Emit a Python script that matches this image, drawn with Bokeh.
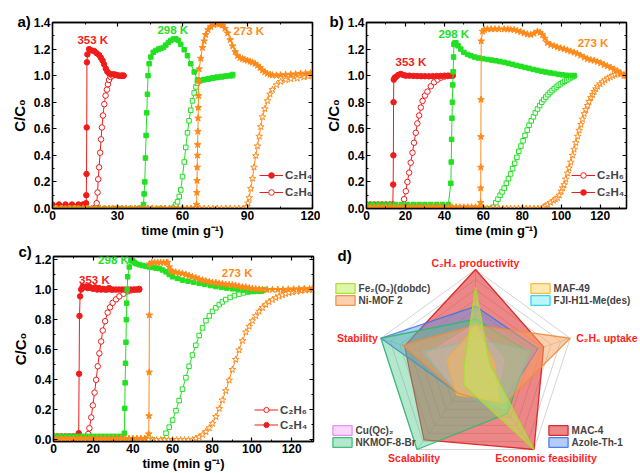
import numpy as np
from bokeh.plotting import figure
from bokeh.models import (Range1d, SingleIntervalTicker, LinearAxis, PrintfTickFormatter,
                          Label, Legend, LegendItem)
from bokeh.layouts import column, row
from bokeh.embed import file_html
from bokeh.resources import INLINE

# ---------------- data (time min/g, C/C0) ----------------
# panel a
a_353_C2H4 = [(0,0.03),(3,0.03),(6,0.03),(9,0.03),(12,0.03),(14,0.03),(15.5,0.04),(15.6,0.10),(15.7,0.26),
              (15.8,0.61),(15.9,1.10),(16.1,1.16),(16.9,1.20),(18.0,1.19),(19.2,1.186),(20.3,1.17),(21.5,1.155),
              (22.3,1.135),(23.1,1.114),(23.8,1.085),(24.6,1.053),(25.3,1.03),(26.1,1.017),(27.2,1.01),(28.4,1.01),
              (29.5,1.005),(30.7,1.0),(31.8,1.0),(32.8,1.0)]
a_353_C2H6 = [(0,0.0),(4,0.0),(8,0.0),(12,0.0),(16,0.0),(19,0.0),(20.0,0.01),(20.4,0.04),(20.8,0.12),(21.1,0.22),
              (21.5,0.31),(22.0,0.42),(22.4,0.52),(22.8,0.61),(23.3,0.70),(23.9,0.785),(24.5,0.85),(25.1,0.895),
              (25.6,0.935),(26.1,0.968),(26.8,0.99),(27.7,1.0),(29.0,1.005),(30.5,1.0),(32.0,1.0),(32.8,1.0)]
a_298_C2H4 = [(0,0.0),(4,0.0),(8,0.0),(12,0.0),(16,0.0),(20,0.0),(24,0.0),(28,0.0),(32,0.0),(36,0.0),(40,0.0),
              (42.0,0.03),(42.3,0.11),(42.6,0.20),(42.9,0.38),(43.2,0.55),(43.5,0.72),(43.8,0.86),(44.1,1.0),
              (44.6,1.09),(45.4,1.14),(46.5,1.176),(47.7,1.19),(49.0,1.2),(50.0,1.205),(51.2,1.212),(52.3,1.23),
              (53.5,1.25),(54.6,1.265),(55.8,1.276),(56.9,1.278),(58.0,1.265),(59.2,1.235),(60.8,1.195),(62.3,1.15),
              (63.8,1.09),(65.4,1.028),(66.9,0.968),(68,0.965),(70,0.97),(72,0.975),(74,0.98),(76,0.985),(78,0.99),
              (80,0.995),(82,1.0),(83.1,1.009)]
a_298_C2H6 = [(0,0.0),(10,0.0),(20,0.0),(30,0.0),(40,0.0),(50,0.0),(55,0.0),(56.2,0.01),(57.0,0.03),(57.7,0.05),
              (58.5,0.09),(59.2,0.14),(60.0,0.24),(60.8,0.35),(61.5,0.46),(62.3,0.57),(63.0,0.66),(63.8,0.74),
              (64.6,0.81),(65.4,0.87),(66.2,0.915),(66.9,0.944),(68,0.96),(70,0.97),(72,0.978),(74,0.984),(76,0.99),
              (78,0.994),(80,0.997),(82,1.0),(83.1,1.0)]
a_273_C2H4 = [(0,0.0),(2,0.0),(4,0.0),(6,0.0),(8,0.0),(10,0.0),(12,0.0),(14,0.0),(16,0.0),(18,0.0),(20,0.0),
              (22,0.0),(24,0.0),(26,0.0),(28,0.0),(30,0.0),(32,0.0),(34,0.0),(36,0.0),(38,0.0),(40,0.0),(42,0.0),
              (44,0.0),(46,0.0),(48,0.0),(50,0.0),(52,0.0),(54,0.0),(56,0.0),(58,0.0),(60,0.0),(62,0.0),(64,0.0),
              (66.5,0.03),(66.6,0.12),(66.7,0.21),(66.8,0.31),(66.9,0.40),(67.0,0.48),(67.1,0.58),(67.2,0.68),
              (67.3,0.76),(67.4,0.85),(67.5,0.96),(67.7,1.05),(68.4,1.13),(69.2,1.211),(70.0,1.26),(70.7,1.308),
              (71.8,1.345),(73.0,1.369),(74.5,1.382),(76.1,1.389),(77.2,1.387),(78.4,1.38),(79.6,1.355),(80.8,1.32),
              (82.0,1.27),(83.1,1.223),(84.3,1.18),(85.4,1.15),(86.5,1.135),(87.7,1.126),(88.8,1.12),(90.0,1.114),
              (91.2,1.107),(92.3,1.10),(93.5,1.09),(94.6,1.077),(95.8,1.06),(96.9,1.04),(98.0,1.027),(99.2,1.016),
              (100.4,1.008),(101.5,1.004),(103.4,1.002),(105.3,1.004),(107.6,1.007),(109.9,1.01),(112.2,1.012),
              (114.5,1.016),(116.8,1.018),(119.1,1.02),(120,1.02)]
a_273_C2H6 = [(0,0.0),(2,0.0),(4,0.0),(6,0.0),(8,0.0),(10,0.0),(12,0.0),(14,0.0),(16,0.0),(18,0.0),(20,0.0),
              (22,0.0),(24,0.0),(26,0.0),(28,0.0),(30,0.0),(32,0.0),(34,0.0),(36,0.0),(38,0.0),(40,0.0),(42,0.0),
              (44,0.0),(46,0.0),(48,0.0),(50,0.0),(52,0.0),(54,0.0),(56,0.0),(58,0.0),(60,0.0),(62,0.0),(64,0.0),
              (66,0.0),(68,0.0),(70,0.0),(72,0.0),(74,0.0),(76,0.0),(78,0.0),(80,0.0),(82,0.0),(84,0.0),(86,0.0),
              (88,0.0),(89.5,0.01),(90.2,0.04),(90.8,0.08),(91.5,0.15),(92.3,0.226),(93.0,0.31),(93.8,0.397),
              (94.6,0.47),(95.4,0.543),(96.1,0.615),(96.9,0.689),(98.0,0.75),(99.2,0.81),(100.4,0.86),(101.5,0.895),
              (103.4,0.93),(105.3,0.955),(107.6,0.968),(110,0.975),(113,0.98),(116,0.99),(118,0.995),(120,1.0)]

# panel b
b_353_C2H4 = [(0,0.03),(2,0.03),(4,0.03),(6,0.03),(8,0.03),(10,0.03),(12,0.03),(13.5,0.03),(13.7,0.18),(13.8,0.40),
              (13.9,0.80),(14.0,0.97),(14.5,0.985),(15.1,0.99),(16.3,1.005),(17.6,1.013),(18.9,1.005),(20.2,1.0),
              (22,1.0),(24,0.998),(26,0.997),(28,0.996),(30,0.996),(32,0.995),(34,0.996),(36,0.997),(38,0.998),
              (40,1.0),(42,1.0),(44.2,1.0)]
b_353_C2H6 = [(0,0.0),(3,0.0),(6,0.0),(9,0.0),(12,0.0),(15,0.0),(17,0.0),(18.5,0.02),(19.3,0.07),(20.2,0.13),
              (21.0,0.2),(21.9,0.27),(22.7,0.345),(23.6,0.42),(24.4,0.495),(25.3,0.57),(26.1,0.64),(27.0,0.70),
              (27.9,0.76),(28.8,0.81),(30,0.85),(31.3,0.88),(33,0.92),(34.7,0.95),(36.5,0.97),(38.2,0.985),
              (40,0.993),(41.5,0.998),(43.3,1.0),(44.2,1.0)]
b_298_C2H4 = [(0,0.03),(3,0.03),(6,0.03),(9,0.03),(12,0.03),(15,0.03),(18,0.03),(21,0.03),(24,0.03),(27,0.03),
              (30,0.03),(33,0.03),(36,0.03),(39,0.03),(42,0.03),(43.3,0.19),(43.5,0.35),(43.7,0.52),(43.9,0.68),
              (44.1,0.80),(44.3,0.93),(44.5,1.03),(44.7,1.14),(44.9,1.235),(45.3,1.245),(45.9,1.247),(47.0,1.225),
              (48.4,1.2),(50.0,1.175),(51.9,1.16),(53.6,1.15),(55.5,1.14),(57.5,1.133),(59.7,1.128),(62.1,1.122),
              (64.3,1.117),(66.4,1.112),(68.5,1.106),(70.7,1.10),(72.8,1.093),(75.0,1.085),(77.1,1.077),(79.3,1.07),
              (81.4,1.062),(83.5,1.055),(85.6,1.047),(87.8,1.04),(89.9,1.033),(92.1,1.027),(94.2,1.021),(96.4,1.017),
              (98.5,1.01),(100.6,1.006),(102.6,1.003),(104.6,1.001),(106.6,1.0)]
b_298_C2H6 = [(0,0.0),(5,0.0),(10,0.0),(15,0.0),(20,0.0),(25,0.0),(30,0.0),(35,0.0),(40,0.0),(45,0.0),(50,0.0),
              (55,0.0),(60,0.0),(63.8,0.0),(65,0.01),(66.4,0.044),(67.5,0.07),(68.6,0.1),(69.6,0.125),(70.7,0.153),
              (71.8,0.19),(72.9,0.225),(74,0.26),(75,0.3),(76.1,0.34),(77.2,0.385),(78.2,0.43),(79.3,0.47),(80.4,0.51),
              (81.4,0.55),(82.5,0.59),(83.5,0.627),(84.6,0.66),(85.7,0.69),(86.7,0.72),(87.8,0.749),(88.9,0.775),
              (90,0.8),(91,0.82),(92.1,0.839),(93.2,0.857),(94.2,0.873),(95.3,0.888),(96.4,0.902),(97.5,0.915),
              (98.5,0.927),(99.6,0.938),(100.7,0.948),(101.7,0.958),(102.8,0.967),(103.9,0.976),(104.9,0.985),
              (105.8,0.992),(106.6,1.0)]
b_273_C2H4 = [(0,0.01),(2,0.01),(4,0.01),(6,0.01),(8,0.01),(10,0.01),(12,0.01),(14,0.01),(16,0.01),(18,0.01),
              (20,0.01),(22,0.01),(24,0.01),(26,0.01),(28,0.01),(30,0.01),(32,0.01),(34,0.01),(36,0.01),(38,0.01),
              (40,0.01),(42,0.01),(44,0.01),(46,0.01),(48,0.01),(50,0.01),(52,0.01),(54,0.01),(56,0.01),(58,0.01),
              (58.6,0.044),(58.65,0.153),(58.7,0.31),(58.75,0.54),(58.8,0.82),(58.9,1.26),(59.6,1.333),(60.5,1.345),
              (62.1,1.35),(64,1.35),(66,1.35),(68,1.35),(70.7,1.35),(72.5,1.35),(74,1.348),(75.8,1.345),(77.5,1.338),
              (79.2,1.33),(80.9,1.32),(82.6,1.312),(84.4,1.308),(86,1.318),(87.8,1.333),(89.1,1.325),(90.4,1.308),
              (91.6,1.28),(92.9,1.247),(94.6,1.232),(96.4,1.223),(98,1.215),(99.7,1.207),(101.5,1.2),(103.2,1.192),
              (104.9,1.183),(106.6,1.175),(108.3,1.165),(110,1.152),(111.8,1.138),(113.5,1.126),(115.2,1.118),
              (116.9,1.114),(118.6,1.105),(120.3,1.095),(122,1.082),(123.7,1.072),(125.5,1.06),(127.2,1.048),
              (128.9,1.035),(130.6,1.018),(132.3,1.004),(133.3,1.0)]
b_273_C2H6 = [(0,0.0),(2,0.0),(4,0.0),(6,0.0),(8,0.0),(10,0.0),(12,0.0),(14,0.0),(16,0.0),(18,0.0),(20,0.0),
              (22,0.0),(24,0.0),(26,0.0),(28,0.0),(30,0.0),(32,0.0),(34,0.0),(36,0.0),(38,0.0),(40,0.0),(42,0.0),
              (44,0.0),(46,0.0),(48,0.0),(50,0.0),(52,0.0),(54,0.0),(56,0.0),(58,0.0),(60,0.0),(62,0.0),(64,0.0),
              (66,0.0),(68,0.0),(70,0.0),(72,0.0),(74,0.0),(76,0.0),(78,0.0),(80,0.0),(82,0.0),(84,0.0),(86,0.0),
              (88,0.0),(90,0.0),(91,0.01),(92,0.02),(93,0.03),(94.5,0.045),(96,0.06),(97,0.07),(98.1,0.08),(99,0.1),
              (100,0.13),(100.7,0.155),(101.5,0.178),(102.3,0.22),(103.2,0.265),(104,0.305),(104.9,0.348),(105.8,0.4),
              (106.6,0.445),(107.5,0.495),(108.4,0.543),(109.2,0.588),(110.1,0.632),(110.9,0.672),(111.8,0.713),
              (112.6,0.745),(113.5,0.775),(114.3,0.805),(115.2,0.834),(116.1,0.858),(116.9,0.88),(117.8,0.9),
              (118.6,0.919),(119.9,0.937),(121.2,0.952),(122.5,0.967),(123.8,0.98),(125.1,0.99),(126.4,0.998),
              (127.6,1.008),(128.9,1.017),(130.6,1.01),(132.3,1.0),(133.3,1.0)]

# panel c
c_353_C2H4 = [(0,0.024),(2,0.024),(4,0.024),(6,0.024),(8,0.024),(10,0.024),(12,0.024),(12.7,0.045),(12.9,0.44),
              (13.1,0.825),(13.4,0.955),(13.9,1.0),(14.7,1.02),(15.5,1.015),(16.3,1.02),(17.2,1.01),(18.0,1.02),
              (19.0,1.01),(20.0,1.005),(21.0,1.015),(22.0,1.0),(23.0,1.01),(24.0,1.0),(25.0,1.005),(26.0,1.0),
              (27.0,1.0),(28.0,1.01),(29.0,1.0),(30.0,1.0),(31.5,1.0),(33.0,1.0),(34.5,1.0),(36.0,1.0),(37.5,1.0),
              (39.0,1.0),(40.5,1.0),(42.0,1.0),(43.2,1.0)]
c_353_C2H6 = [(0,0.0),(4,0.0),(8,0.0),(12,0.0),(16,0.0),(16.8,0.01),(17.5,0.04),(18.1,0.078),(19.0,0.15),
              (19.8,0.23),(20.7,0.315),(21.5,0.40),(22.3,0.49),(23.1,0.576),(24.0,0.655),(24.8,0.728),(26.0,0.79),
              (27.3,0.847),(28.5,0.882),(29.8,0.912),(31.5,0.935),(33.2,0.955),(35.3,0.972),(37.4,0.988),
              (39.1,0.995),(41.0,1.0),(43.2,1.005)]
c_298_C2H4 = [(0,0.024),(2,0.024),(4,0.024),(6,0.024),(8,0.024),(10,0.024),(12,0.024),(14,0.024),(16,0.024),
              (18,0.024),(20,0.024),(22,0.024),(24,0.024),(26,0.024),(28,0.024),(30,0.024),(32,0.024),(34,0.024),
              (35.7,0.045),(35.9,0.21),(36.1,0.38),(36.3,0.51),(36.5,0.65),(36.7,0.80),(36.9,0.91),(37.1,1.0),
              (37.4,1.085),(38.2,1.15),(39.0,1.193),(40.0,1.19),(40.8,1.18),(41.6,1.172),(43.2,1.165),(44.9,1.16),
              (46.6,1.155),(48.3,1.15),(50,1.147),(51.6,1.143),(53.3,1.14),(55,1.13),(56.7,1.118),(58.3,1.1),
              (60,1.085),(62.5,1.074),(65,1.063),(67.8,1.056),(70.6,1.049),(73.4,1.042),(76.2,1.035),(79,1.027),
              (81.8,1.02),(84.6,1.015),(87.3,1.01),(90.1,1.005),(92.9,1.0),(95.7,0.994),(98.5,0.988),(101,0.988),
              (103.6,0.988),(105,0.99)]
c_298_C2H6 = [(0,0.0),(5,0.0),(10,0.0),(15,0.0),(20,0.0),(25,0.0),(30,0.0),(35,0.0),(40,0.0),(45,0.0),(50,0.0),
              (55,0.0),(56.7,0.045),(58.3,0.085),(60,0.132),(61.7,0.195),(63.3,0.262),(65,0.338),(66.7,0.414),
              (68.3,0.49),(70,0.565),(71.7,0.63),(73.4,0.695),(75.1,0.745),(76.8,0.793),(78.5,0.825),(80.1,0.855),
              (81.8,0.879),(83.5,0.9),(85.1,0.918),(86.8,0.934),(89,0.948),(91.2,0.96),(93.5,0.97),(95.7,0.978),
              (98,0.984),(100.2,0.988),(102.4,0.993),(104.7,0.997),(106.9,1.0)]
c_273_C2H4 = [(0,0.01),(2,0.01),(4,0.01),(6,0.01),(8,0.01),(10,0.01),(12,0.01),(14,0.01),(16,0.01),(18,0.01),
              (20,0.01),(22,0.01),(24,0.01),(26,0.01),(28,0.01),(30,0.01),(32,0.01),(34,0.01),(36,0.01),(38,0.01),
              (40,0.01),(42,0.01),(44,0.01),(46,0.01),(48.0,0.04),(48.1,0.16),(48.2,0.45),(48.3,0.83),(48.4,1.17),
              (49.5,1.18),(51,1.18),(52.5,1.18),(54,1.18),(55.5,1.18),(57,1.18),(57.5,1.18),(58.3,1.15),(59.2,1.125),
              (60,1.118),(61.6,1.115),(63.3,1.11),(65,1.107),(66.7,1.1),(68.3,1.093),(70,1.085),(71.7,1.078),
              (73.4,1.07),(75.1,1.063),(76.8,1.058),(78.5,1.052),(80.1,1.048),(81.8,1.046),(83.5,1.042),(85.1,1.038),
              (86.8,1.034),(88.5,1.032),(90.1,1.031),(91.8,1.027),(93.5,1.022),(95.2,1.018),(96.9,1.016),(98.6,1.01),
              (100.2,1.007),(101.9,1.005),(103.6,1.002),(105.3,1.0),(107.6,1.0),(110.3,1.0),(113,1.0),(115.6,1.0),
              (118.3,1.002),(121,1.003),(123.7,1.004),(126.3,1.005),(129,1.005),(130.4,1.005)]
c_273_C2H6 = [(0,0.0),(2,0.0),(4,0.0),(6,0.0),(8,0.0),(10,0.0),(12,0.0),(14,0.0),(16,0.0),(18,0.0),(20,0.0),
              (22,0.0),(24,0.0),(26,0.0),(28,0.0),(30,0.0),(32,0.0),(34,0.0),(36,0.0),(38,0.0),(40,0.0),(42,0.0),
              (44,0.0),(46,0.0),(48,0.0),(50,0.0),(52,0.0),(54,0.0),(56,0.0),(58,0.0),(60,0.0),(62,0.0),(64,0.0),
              (66,0.0),(68,0.0),(70,0.0),(71.7,0.01),(73.4,0.02),(75.1,0.035),(76.8,0.055),(78.5,0.08),(80.1,0.11),
              (81.8,0.155),(83.5,0.208),(85.1,0.265),(86.8,0.327),(88.5,0.397),(90.1,0.468),(91.8,0.535),(93.5,0.598),
              (95.2,0.66),(96.9,0.717),(98.6,0.755),(100.2,0.792),(101.9,0.825),(103.6,0.855),(105.3,0.88),
              (106.9,0.901),(108.6,0.918),(110.3,0.932),(112,0.945),(113.6,0.955),(115.3,0.963),(117,0.972),
              (118.6,0.978),(120.3,0.983),(122.5,0.988),(124.7,0.992),(126.9,0.996),(128.9,0.998),(130.4,1.0)]

temps = ["353 K", "298 K", "273 K"]

# panel d (radar)
radar_axes = ["C\u2082H\u2084 productivity", "C\u2082H\u2086 uptake", "Economic feasibility", "Scalability", "Stability"]
radar_levels = [0.1, 0.2, 0.3, 0.4, 0.5, 0.6, 0.7, 0.8, 0.9, 1.0]
MAC_4 = [1.0, 0.72, 1.0, 0.88, 0.75]
Azole_Th_1 = [0.63, 0.66, 0.45, 0.30, 1.0]
NKMOF_8_Br = [0.50, 0.56, 0.55, 1.0, 1.0]
Cu_Qc_2 = [0.45, 0.30, 0.35, 0.30, 0.50]
FJI_H11_Me = [0.30, 0.58, 0.50, 0.30, 0.56]
MAF_49 = [0.42, 0.20, 0.40, 0.32, 0.30]
Ni_MOF_2 = [0.44, 1.0, 0.46, 0.30, 0.77]
Fe2_O2_dobdc = [0.82, 0.15, 1.0, 0.20, 0.12]

# ---------------- styling ----------------
RED = "#f01c1c"
GREEN = "#22e022"
ORANGE = "#ff8a1a"
LABEL_RED = "#ff1f1f"
FONT = "Liberation Sans"


def unzip(pairs):
    return [q[0] for q in pairs], [q[1] for q in pairs]


def style_axis(ax):
    ax.axis_line_width = 1.3
    ax.major_tick_in = 4
    ax.major_tick_out = 0
    ax.minor_tick_in = 2
    ax.minor_tick_out = 0
    ax.major_tick_line_width = 1.2
    ax.major_label_text_font = FONT
    ax.major_label_text_font_style = "bold"
    ax.major_label_text_font_size = "12px"
    ax.major_label_text_color = "black"
    ax.major_label_standoff = 2
    ax.axis_label_text_font = FONT
    ax.axis_label_text_font_style = "bold"
    ax.axis_label_text_color = "black"


def make_panel(w, h, borders, xr, yr, xtick, series, tlabels, legend_first, legend_pos, legend_row,
               tag, tag_offset, tag_standoff):
    bl, br, bt, bb = borders
    p = figure(width=w, height=h, x_range=Range1d(*xr), y_range=Range1d(*yr),
               output_backend="svg", toolbar_location=None,
               min_border_left=bl, min_border_right=br, min_border_top=bt, min_border_bottom=bb,
               outline_line_color="black", outline_line_width=1.3)
    p.xgrid.visible = False
    p.ygrid.visible = False
    p.xaxis.ticker = SingleIntervalTicker(interval=xtick, num_minor_ticks=2)
    p.yaxis.ticker = SingleIntervalTicker(interval=0.2, num_minor_ticks=2)
    p.yaxis.formatter = PrintfTickFormatter(format="%.1f")
    xa = p.xaxis[0]
    ya = p.yaxis[0]
    top = LinearAxis(ticker=SingleIntervalTicker(interval=xtick, num_minor_ticks=2))
    right = LinearAxis(ticker=SingleIntervalTicker(interval=0.2, num_minor_ticks=2))
    p.add_layout(top, "above")
    p.add_layout(right, "right")
    for ax in (xa, ya, top, right):
        style_axis(ax)
    for ax in (top, right):
        ax.major_label_text_color = None
        ax.major_label_text_font_size = "1px"
        ax.major_label_standoff = 0
    xa.axis_label = "time (min g\u207b\u00b9)"
    xa.axis_label_text_font_size = "13px"
    xa.axis_label_standoff = 0
    ya.axis_label = "C/C\u2080"
    ya.axis_label_text_font_size = "15px"
    ya.axis_label_standoff = 3

    # panel tag as the plot title
    p.title.text = tag
    p.title.align = "left"
    p.title.offset = tag_offset
    p.title.standoff = tag_standoff
    p.title.text_font = FONT
    p.title.text_font_style = "bold"
    p.title.text_font_size = "15px"
    p.title.text_color = "black"

    colors = [RED, GREEN, ORANGE]
    markers = ["circle", "square", "star"]
    sizes = [5.5, 4.5, 7]
    rends = {}
    for (e_data, a_data), col, mk, sz in zip(series, colors, markers, sizes):
        tx, cy = unzip(a_data)
        la = p.line(tx, cy, line_color=col, line_width=1)
        sa = p.scatter(tx, cy, marker=mk, size=sz, line_color=col, fill_color="white", line_width=1)
        tx, cy = unzip(e_data)
        le = p.line(tx, cy, line_color=col, line_width=1)
        se = p.scatter(tx, cy, marker=mk, size=sz, line_color=col, fill_color=col, line_width=1)
        if col == RED:
            rends["C2H4"] = [le, se]
            rends["C2H6"] = [la, sa]

    for (txt, (lx, ly)), col in zip(tlabels, colors):
        p.add_layout(Label(x=lx, y=ly, text=txt, text_color=col, text_font=FONT,
                           text_font_style="bold", text_font_size="11.5px",
                           text_align="center", text_baseline="middle"))

    names = {"C2H4": "C\u2082H\u2084", "C2H6": "C\u2082H\u2086"}
    order = ["C2H4", "C2H6"] if legend_first == "C2H4" else ["C2H6", "C2H4"]
    items = [LegendItem(label=names[k], renderers=rends[k]) for k in order]
    lh, sp = legend_row
    leg = Legend(items=items, location=legend_pos, glyph_width=24, glyph_height=lh, label_height=lh,
                 spacing=sp, padding=0, margin=0, label_standoff=2,
                 label_text_font=FONT, label_text_font_style="bold", label_text_font_size="11.5px",
                 background_fill_alpha=0, border_line_alpha=0)
    p.add_layout(leg, "center")
    return p


# ---------------- panels a, b, c ----------------
pa = make_panel(320, 240, (52, 8, 22, 28), (0, 120), (0, 1.4001), 30,
                [(a_353_C2H4, a_353_C2H6), (a_298_C2H4, a_298_C2H6), (a_273_C2H4, a_273_C2H6)],
                list(zip(temps, [(18.6, 1.267), (55.5, 1.34), (90.6, 1.333)])),
                "C2H4", (207, 9), (14, 3), "a)", -35, -14)

pb = make_panel(320, 240, (46, 14, 22, 28), (0, 133.5), (0, 1.4001), 20,
                [(b_353_C2H4, b_353_C2H6), (b_298_C2H4, b_298_C2H6), (b_273_C2H4, b_273_C2H6)],
                list(zip(temps, [(22.8, 1.1), (44.8, 1.31), (116.3, 1.245)])),
                "C2H6", (205, 9), (14, 3), "b)", -37, -14)

pc = make_panel(320, 233, (53, 7, 16, 28), (0, 131), (-0.01, 1.22), 20,
                [(c_353_C2H4, c_353_C2H6), (c_298_C2H4, c_298_C2H6), (c_273_C2H4, c_273_C2H6)],
                list(zip(temps, [(20.6, 1.066), (30.2, 1.2), (92.5, 1.11)])),
                "C2H6", (201, 10), (13, 2), "c)", -35, -6)

# ---------------- panel d (radar) ----------------
WD, HD = 320, 233
R = 99.5
CX, CY = 155.0, 128.5
pd_ = figure(width=WD, height=HD, output_backend="svg", toolbar_location=None,
             x_range=Range1d(-CX / R, (WD - CX) / R), y_range=Range1d(-(HD - CY) / R, CY / R),
             x_axis_location=None, y_axis_location=None, min_border=0,
             outline_line_color=None)
try:
    pd_.frame_align = False
except Exception:
    pass
pd_.xgrid.visible = False
pd_.ygrid.visible = False

ang = np.pi / 2 - 2 * np.pi * np.arange(5) / 5
ux, uy = np.cos(ang), np.sin(ang)

gx, gy = [], []
for lv in radar_levels:
    gx.append(list(np.append(ux * lv, ux[0] * lv)))
    gy.append(list(np.append(uy * lv, uy[0] * lv)))
for k in range(5):
    gx.append([0, ux[k]])
    gy.append([0, uy[k]])
pd_.multi_line(gx, gy, line_color="#cfcfcf", line_width=0.9)

materials = [
    ("MAC-4", MAC_4, "#e23b3b", 0.62, "#d91c1c"),
    ("Azole-Th-1", Azole_Th_1, "#5b8ff0", 0.45, "#3c74e6"),
    ("NKMOF-8-Br", NKMOF_8_Br, "#4cc98a", 0.42, "#2fb872"),
    ("Cu(Qc)\u2082", Cu_Qc_2, "#ee9cf5", 0.40, "#e08cf0"),
    ("FJI-H11-Me(des)", FJI_H11_Me, "#4fe6f2", 0.40, "#2ad3e6"),
    ("MAF-49", MAF_49, "#ffcc55", 0.45, "#f5b82e"),
    ("Ni-MOF 2", Ni_MOF_2, "#f7a25e", 0.50, "#f08c3c"),
    ("Fe\u2082(O\u2082)(dobdc)", Fe2_O2_dobdc, "#bfee55", 0.50, "#a6dd2a"),
]
patch_r = {}
for name, vals, fc, fa, lc in materials:
    v = np.array(vals)
    patch_r[name] = pd_.patch(list(ux * v), list(uy * v), fill_color=fc, fill_alpha=fa,
                              line_color=lc, line_width=1.3, line_alpha=0.9)


def add_legend(names, loc):
    items = [LegendItem(label=n, renderers=[patch_r[n]]) for n in names]
    lg = Legend(items=items, location=loc, glyph_width=24, glyph_height=12, label_height=12,
                spacing=-1, padding=0, margin=0, label_standoff=2,
                label_text_font=FONT, label_text_font_style="bold", label_text_font_size="10px",
                background_fill_alpha=0, border_line_alpha=0)
    pd_.add_layout(lg, "center")


add_legend(["Fe\u2082(O\u2082)(dobdc)", "Ni-MOF 2"], (12.6, 167))
add_legend(["MAF-49", "FJI-H11-Me(des)"], (207.6, 167))
add_legend(["Cu(Qc)\u2082", "NKMOF-8-Br"], (9.6, 25))
add_legend(["MAC-4", "Azole-Th-1"], (225.6, 25))

lab_specs = [
    (0, 0.0, 1.0 / R, "center", "bottom"),
    (1, 6.0 / R, 0.0, "left", "middle"),
    (2, 12.0 / R, -3.0 / R, "center", "top"),
    (3, -3.0 / R, -3.0 / R, "center", "top"),
    (4, -3.0 / R, 0.0, "right", "middle"),
]
for k, dx, dy, al, bl in lab_specs:
    pd_.add_layout(Label(x=ux[k] + dx, y=uy[k] + dy, text=radar_axes[k], text_color=LABEL_RED,
                         text_font=FONT, text_font_style="bold", text_font_size="10.5px",
                         text_align=al, text_baseline=bl))

pd_.add_layout(Label(x=17, y=HD - 15, x_units="screen", y_units="screen", text="d)",
                     text_font=FONT, text_font_style="bold", text_font_size="15px",
                     text_align="left", text_baseline="middle", text_color="black"))

layout = column(row(pa, pb), row(pc, pd_))
open("out.html", "w").write(file_html(layout, INLINE))
